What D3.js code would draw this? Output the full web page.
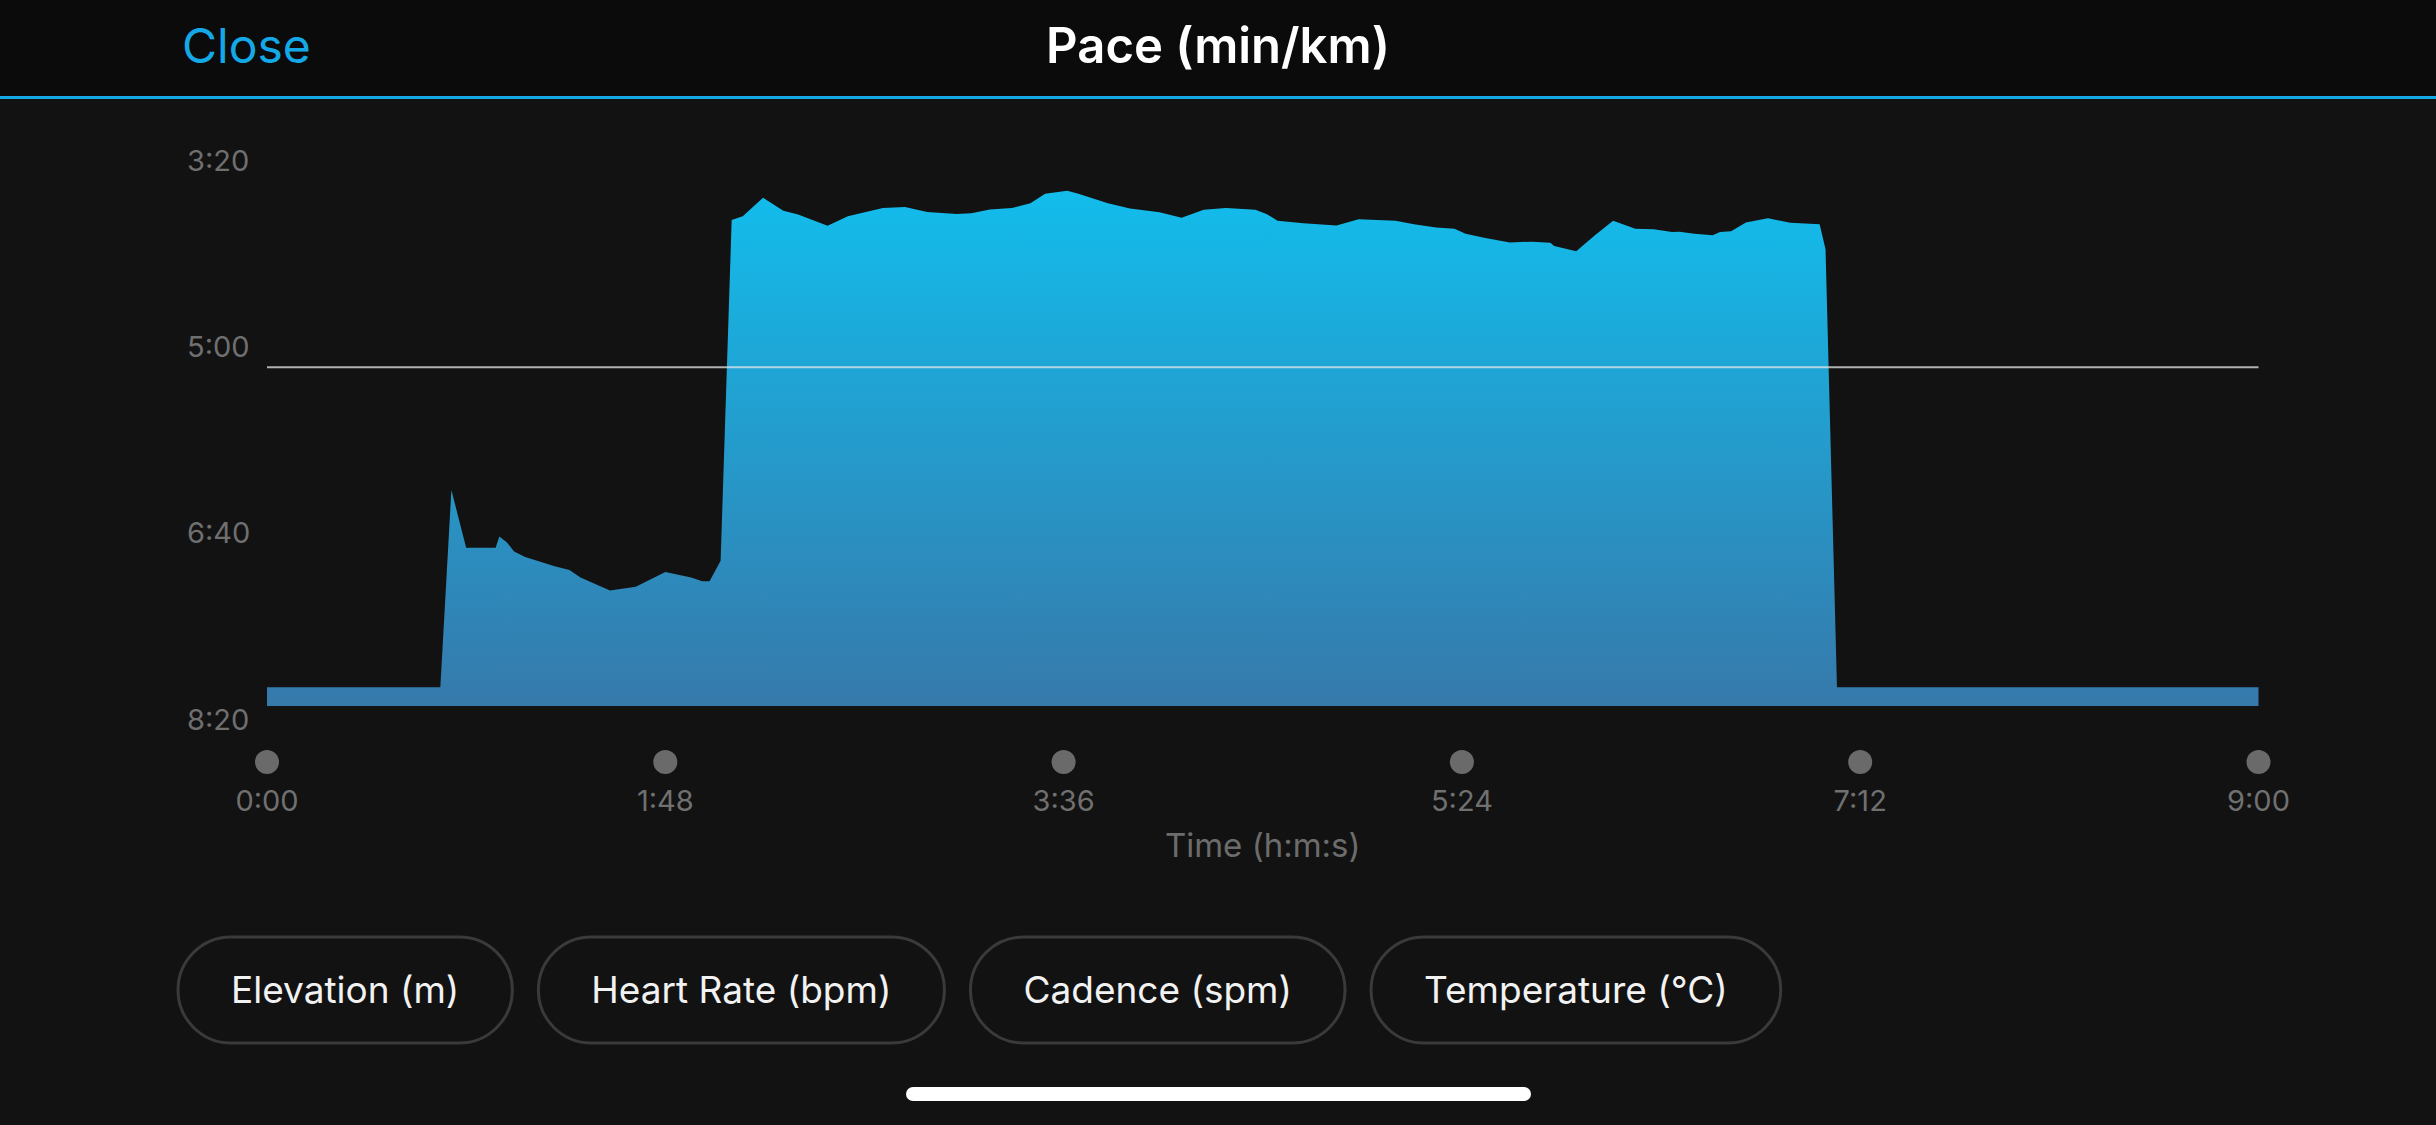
<!DOCTYPE html>
<html>
<head>
<meta charset="utf-8">
<script src="https://cdn.jsdelivr.net/npm/d3@7"></script>
<style>
  html, body { margin: 0; padding: 0; background: #121212; }
  svg { display: block; font-family: Inter, "Noto Sans", sans-serif; }
</style>
</head>
<body>
<script>
"use strict";

// elapsed time (s) and pace (s per km)
const timeSec = [
  0, 47, 50, 54, 62, 63, 65, 67, 70, 78,
  82, 85, 93, 100, 108, 115, 118, 120, 123, 126,
  129, 134.5, 140, 144, 152, 157.5, 167, 173, 179, 187,
  191, 196, 202, 207, 211, 217, 220, 228, 234, 242,
  248, 254, 260, 268, 271, 274, 281, 290, 296, 306,
  311, 317, 322, 325, 330, 337, 343, 348, 349, 355,
  360, 365, 371, 376, 381, 383, 387, 392, 394, 397,
  401, 407, 413, 421, 422.6, 425.7, 540
];
const paceSec = [
  483, 483, 377, 408, 408, 402, 405, 410, 413, 418,
  420, 424, 431, 429, 421, 424, 426, 426, 415, 232,
  230, 220, 227, 229, 235, 230, 225.5, 225, 227.6, 228.8,
  228.3, 226.3, 225.5, 223, 217.9, 216.3, 217.9, 223, 225.8, 227.8,
  230.8, 226.5, 225.5, 226.5, 228.7, 232.3, 233.7, 234.9, 231.6, 232.3,
  234.3, 236, 236.6, 239.4, 241.5, 244, 243.6, 244.2, 245.9, 248.7,
  240.3, 232.3, 236.6, 236.9, 238.4, 238.3, 239.3, 240.1, 238.4, 238,
  233.3, 231, 233.5, 234.3, 247.7, 483, 483
];

const yTicks = [200, 300, 400, 500];
const xTicks = [0, 108, 216, 324, 432, 540];
const basePace = 493;   // bottom of the filled area
const refPace = 311;    // thin reference line
const buttonLabels = ["Elevation (m)", "Heart Rate (bpm)", "Cadence (spm)", "Temperature (°C)"];

const W = 2436, H = 1125;
const fmt = (s) => Math.floor(s / 60) + ":" + String(Math.round(s % 60)).padStart(2, "0");

const data = timeSec.map((t, i) => ({ t: t, p: paceSec[i] }));

const svg = d3.select("body").append("svg").attr("width", W).attr("height", H);

svg.append("rect").attr("width", W).attr("height", H).attr("fill", "#121212");

// header
svg.append("rect").attr("width", W).attr("height", 96).attr("fill", "#0b0b0b");
svg.append("rect").attr("y", 96).attr("width", W).attr("height", 3).attr("fill", "#14a9e6");
svg.append("text").attr("x", 182).attr("y", 63)
  .attr("font-size", 48).attr("fill", "#14a9e6").text("Close");
svg.append("text").attr("x", W / 2).attr("y", 63).attr("text-anchor", "middle")
  .attr("font-size", 49).attr("font-weight", 600).attr("fill", "#ffffff").text("Pace (min/km)");

const x = d3.scaleLinear().domain([0, 540]).range([267, 2258.5]);
const y = d3.scaleLinear().domain([200, 500]).range([160.5, 719]);

const grad = svg.append("defs").append("linearGradient")
  .attr("id", "paceFill").attr("gradientUnits", "userSpaceOnUse")
  .attr("x1", 0).attr("x2", 0).attr("y1", y(215)).attr("y2", y(basePace));
grad.append("stop").attr("offset", 0).attr("stop-color", "#12bdec");
grad.append("stop").attr("offset", 1).attr("stop-color", "#3679ab");

const area = d3.area()
  .x((d) => x(d.t))
  .y0(y(basePace))
  .y1((d) => y(d.p));

svg.append("path").datum(data).attr("d", area).attr("fill", "url(#paceFill)");

svg.append("line")
  .attr("x1", x(0)).attr("x2", x(540))
  .attr("y1", y(refPace)).attr("y2", y(refPace))
  .attr("stroke", "#e6e6e6").attr("stroke-opacity", 0.75).attr("stroke-width", 2);

// y labels
svg.append("g").selectAll("text").data(yTicks).join("text")
  .attr("x", 187).attr("y", (d) => y(d) + 10.5)
  .attr("font-size", 29).attr("fill", "#6f6f6f")
  .text(fmt);

// x axis: dots + labels
const gx = svg.append("g");
gx.selectAll("circle").data(xTicks).join("circle")
  .attr("cx", (d) => x(d)).attr("cy", 762).attr("r", 12).attr("fill", "#6a6a6a");
gx.selectAll("text").data(xTicks).join("text")
  .attr("x", (d) => x(d)).attr("y", 811).attr("text-anchor", "middle")
  .attr("font-size", 29).attr("fill", "#707070")
  .text(fmt);
svg.append("text").attr("x", (x(0) + x(540)) / 2).attr("y", 857)
  .attr("text-anchor", "middle").attr("font-size", 33).attr("fill", "#6c6c6c")
  .text("Time (h:m:s)");

// buttons
let bx = 178;
buttonLabels.forEach((lbl) => {
  const g = svg.append("g");
  const r = g.append("rect");
  const t = g.append("text").attr("y", 1003).attr("text-anchor", "middle")
    .attr("font-size", 37).attr("fill", "#f2f2f2").text(lbl);
  const w = t.node().getComputedTextLength() + 106;
  r.attr("x", bx).attr("y", 937).attr("width", w).attr("height", 106)
    .attr("rx", 53).attr("fill", "none").attr("stroke", "#3a3a3a").attr("stroke-width", 3);
  t.attr("x", bx + w / 2);
  bx += w + 26;
});

// home indicator
svg.append("rect").attr("x", 906).attr("y", 1087).attr("width", 625).attr("height", 14)
  .attr("rx", 7).attr("fill", "#ffffff");
</script>
</body>
</html>
